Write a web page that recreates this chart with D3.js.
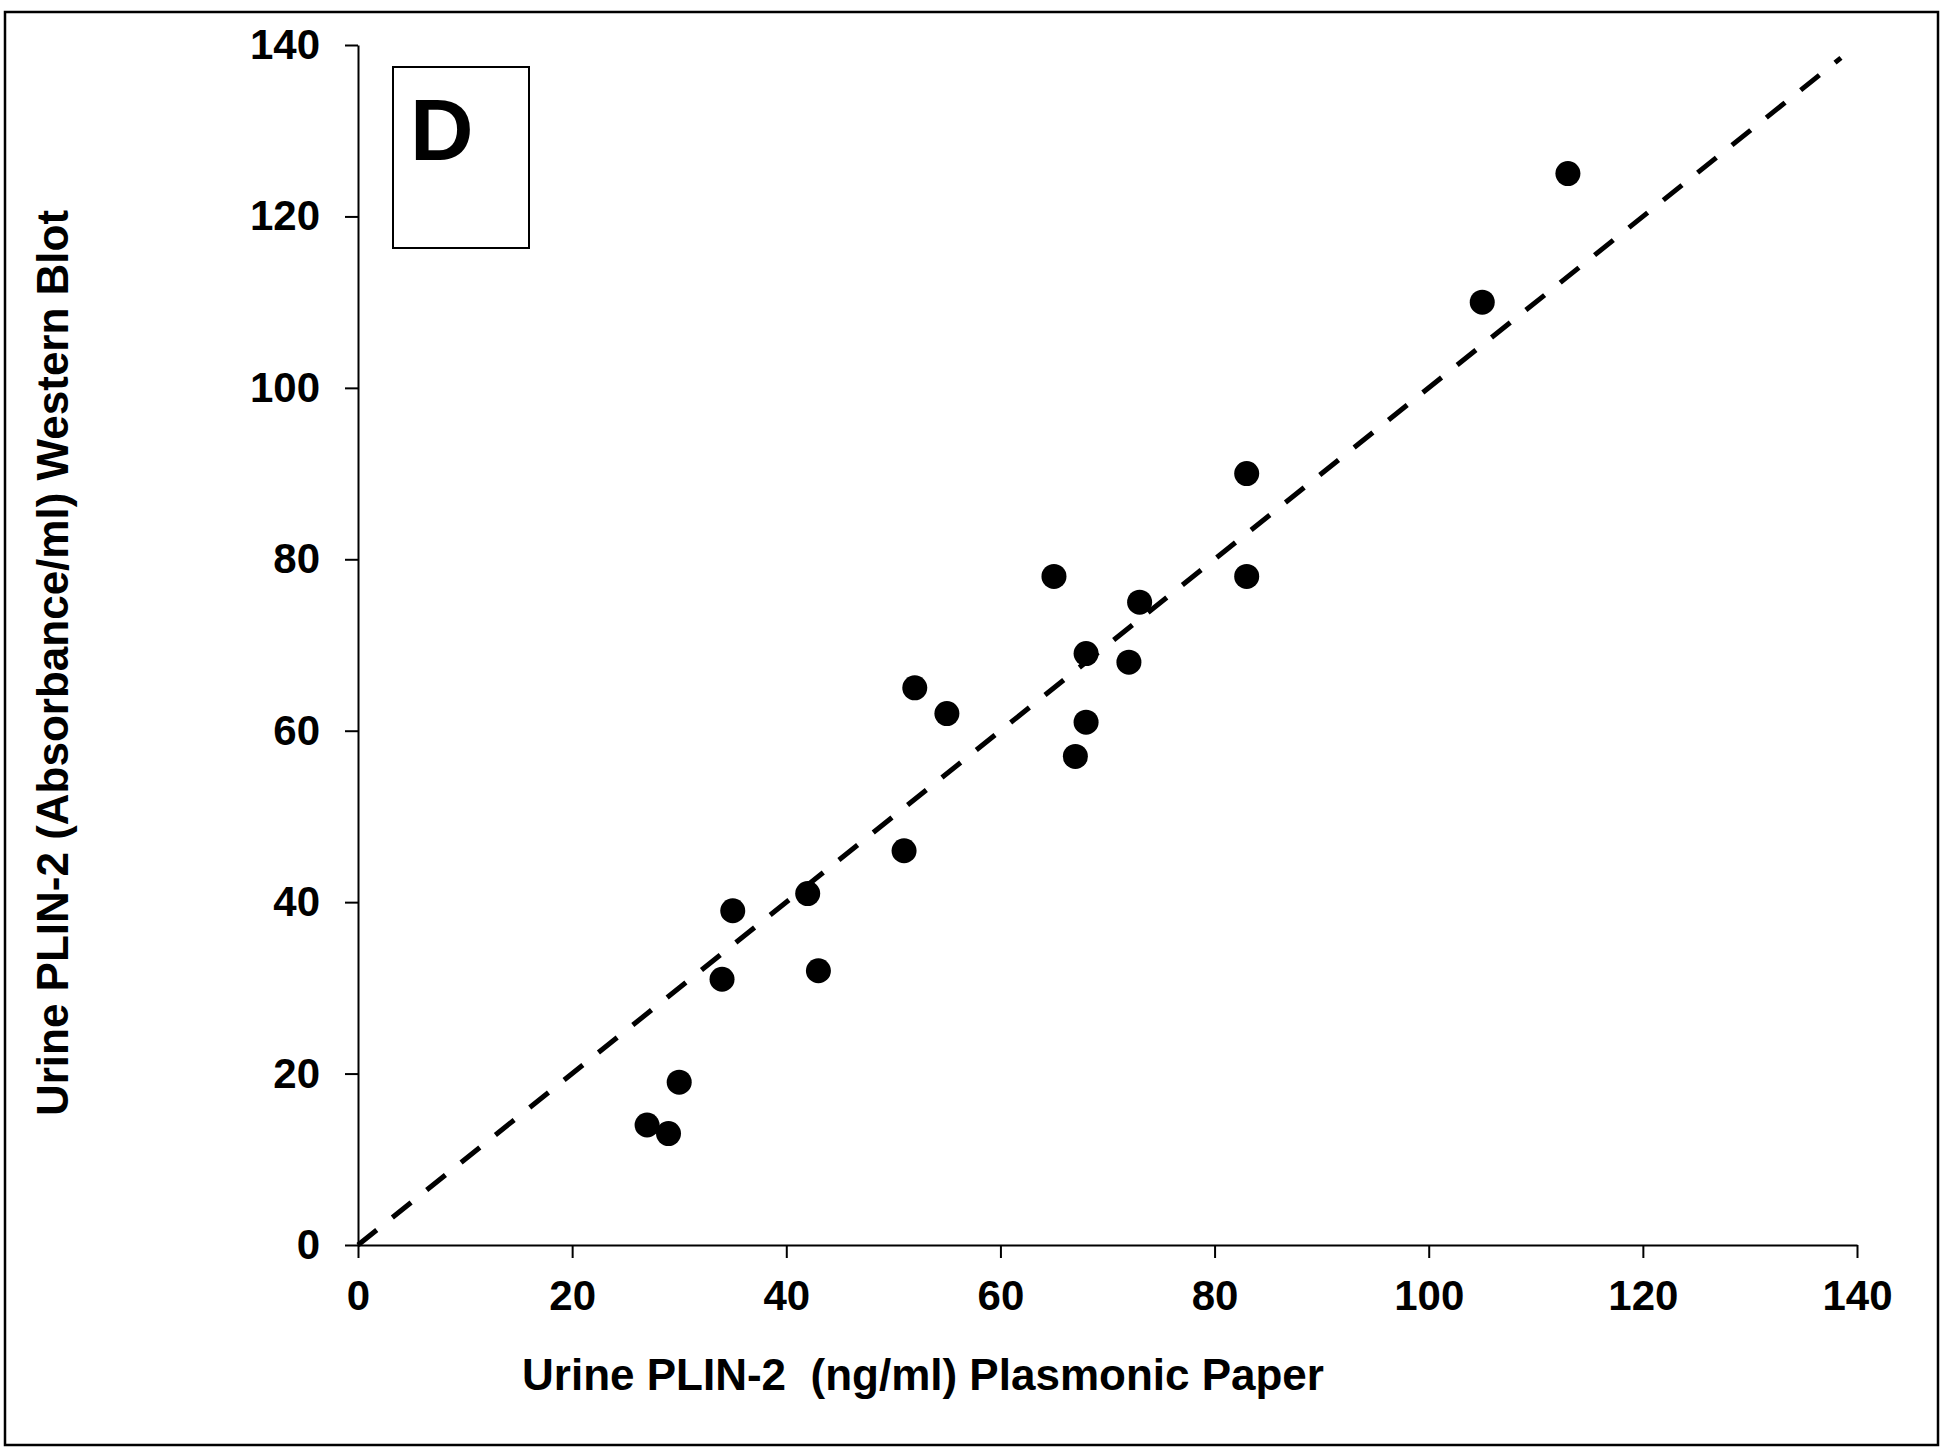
<!DOCTYPE html>
<html>
<head>
<meta charset="utf-8">
<script src="https://cdn.jsdelivr.net/npm/d3@7"></script>
<style>
  html, body { margin: 0; padding: 0; background: #fff; }
  svg { display: block; }
  text { font-family: "Liberation Sans", Arial, sans-serif; font-weight: bold; fill: #000; }
</style>
</head>
<body>
<script>
// Data
const plasmonicPaper = [27, 29, 30, 34, 35, 42, 43, 51, 52, 55, 65, 67, 68, 68, 72, 73, 83, 83, 105, 113];
const westernBlot    = [14, 13, 19, 31, 39, 41, 32, 46, 65, 62, 78, 57, 69, 61, 68, 75, 90, 78, 110, 125];
const xTicks = [0, 20, 40, 60, 80, 100, 120, 140];
const yTicks = [0, 20, 40, 60, 80, 100, 120, 140];
const identityLine = [[0, 0], [138.5, 138.5]];
const xTitle = "Urine PLIN-2  (ng/ml) Plasmonic Paper";
const yTitle = "Urine PLIN-2 (Absorbance/ml) Western Blot";
const panelLabel = "D";

const W = 1950, H = 1454;
const svg = d3.select("body").append("svg").attr("width", W).attr("height", H);
svg.append("rect").attr("width", W).attr("height", H).attr("fill", "#fff");

// outer frame
svg.append("rect").attr("x", 5).attr("y", 12).attr("width", 1933).attr("height", 1433)
  .attr("fill", "none").attr("stroke", "#000").attr("stroke-width", 2.5);

const x = d3.scaleLinear().domain([0, 140]).range([358, 1857]);
const y = d3.scaleLinear().domain([0, 140]).range([1245, 45]);

const tickFont = sel => sel.style("font-size", "42px")
  .style("font-family", "'Liberation Sans', Arial, sans-serif")
  .style("font-weight", "bold").attr("fill", "#000");

// x axis
const gx = svg.append("g").attr("transform", `translate(0,${y(0)})`)
  .call(d3.axisBottom(x).tickValues(xTicks).tickSize(13).tickSizeOuter(0));
gx.select(".domain").attr("stroke", "#000").attr("stroke-width", 2);
gx.selectAll(".tick line").attr("stroke", "#000").attr("stroke-width", 2);
gx.selectAll(".tick text").attr("y", 65).attr("dy", null).call(tickFont);

// y axis
const gy = svg.append("g").attr("transform", `translate(${x(0)},0)`)
  .call(d3.axisLeft(y).tickValues(yTicks).tickSize(13).tickPadding(25).tickSizeOuter(0));
gy.select(".domain").attr("stroke", "#000").attr("stroke-width", 2);
gy.selectAll(".tick line").attr("stroke", "#000").attr("stroke-width", 2);
gy.selectAll(".tick text").call(tickFont);

// identity dashed line
svg.append("path").datum(identityLine)
  .attr("d", d3.line().x(d => x(d[0])).y(d => y(d[1])))
  .attr("fill", "none").attr("stroke", "#000").attr("stroke-width", 5)
  .attr("stroke-dasharray", "24 20");

// points
svg.append("g").selectAll("circle")
  .data(plasmonicPaper.map((v, i) => [v, westernBlot[i]]))
  .join("circle")
  .attr("cx", d => x(d[0])).attr("cy", d => y(d[1])).attr("r", 12.5)
  .attr("fill", "#000");

// panel label box
svg.append("rect").attr("x", 393).attr("y", 67).attr("width", 136).attr("height", 181)
  .attr("fill", "#fff").attr("stroke", "#000").attr("stroke-width", 2);
svg.append("text").attr("x", 410).attr("y", 160).style("font-size", "88px").text(panelLabel);

// axis titles
svg.append("text").attr("x", 923).attr("y", 1390).attr("text-anchor", "middle")
  .style("font-size", "44px").style("white-space", "pre").text(xTitle);
svg.append("text").attr("transform", "translate(68,663) rotate(-90)").attr("text-anchor", "middle")
  .style("font-size", "44px").style("white-space", "pre").text(yTitle);
</script>
</body>
</html>
